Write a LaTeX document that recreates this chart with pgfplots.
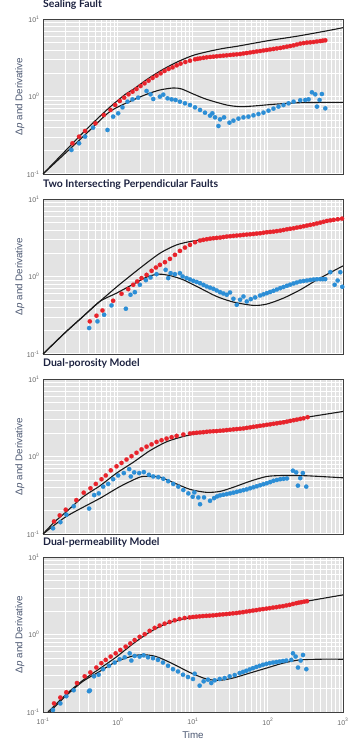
\documentclass[border=0pt]{standalone}
\usepackage{fontspec}
\setmainfont{Liberation Sans}
\newfontfamily\titlefont{Lato}
\usepackage{pgfplots}
\usepackage{pgfplotstable}
\pgfplotsset{compat=1.18}
\definecolor{ptred}{HTML}{E8232B}
\definecolor{ptblue}{HTML}{2C8ED6}
\definecolor{bggray}{HTML}{E3E3E3}
\definecolor{ticktxt}{HTML}{666666}
\definecolor{labtxt}{HTML}{4A5670}
\definecolor{titletxt}{HTML}{1C2240}

% ---------- Panel 1: Sealing Fault (log10 values) ----------
\pgfplotstableread{
lx ly
-0.608 -0.604
-0.519 -0.518
-0.439 -0.445
-0.301 -0.346
-0.189 -0.239
-0.100 -0.174
-0.038 -0.110
0.024 -0.058
0.082 -0.015
0.140 0.028
0.194 0.062
0.247 0.097
0.301 0.135
0.354 0.170
0.408 0.204
0.461 0.239
0.514 0.269
0.568 0.299
0.621 0.329
0.675 0.355
0.728 0.376
0.782 0.402
0.835 0.424
0.898 0.445
0.960 0.462
1.027 0.480
1.060 0.486
1.094 0.492
1.140 0.499
1.183 0.505
1.228 0.510
1.272 0.514
1.316 0.519
1.361 0.523
1.405 0.527
1.450 0.531
1.495 0.536
1.539 0.540
1.584 0.544
1.628 0.548
1.672 0.555
1.717 0.561
1.762 0.568
1.806 0.574
1.850 0.581
1.895 0.587
1.940 0.594
1.984 0.600
2.028 0.607
2.073 0.613
2.118 0.620
2.163 0.626
2.207 0.635
2.252 0.643
2.296 0.651
2.341 0.660
2.385 0.671
2.430 0.682
2.475 0.689
2.519 0.695
2.563 0.699
2.608 0.703
2.652 0.710
2.697 0.716
2.730 0.720
2.764 0.725
}\redA
\pgfplotstableread{
lx ly
-0.621 -0.690
-0.519 -0.604
-0.439 -0.518
-0.332 -0.402
-0.140 -0.432
-0.065 -0.260
0.002 -0.217
0.060 -0.140
0.127 -0.067
0.194 -0.037
0.269 -0.015
0.381 0.071
0.434 0.028
0.470 -0.032
0.559 -0.002
0.604 0.024
0.661 -0.024
0.715 -0.037
0.768 -0.045
0.826 -0.067
0.893 -0.088
0.960 -0.110
1.027 -0.140
1.094 -0.174
1.160 -0.209
1.227 -0.247
1.258 -0.217
1.294 -0.269
1.339 -0.381
1.361 -0.295
1.414 -0.269
1.486 -0.338
1.539 -0.312
1.606 -0.286
1.673 -0.269
1.739 -0.260
1.806 -0.243
1.873 -0.226
1.940 -0.209
2.007 -0.183
2.073 -0.157
2.140 -0.131
2.207 -0.110
2.274 -0.088
2.341 -0.067
2.430 -0.049
2.497 -0.045
2.541 -0.037
2.586 0.054
2.630 0.028
2.653 -0.131
2.688 -0.045
2.719 0.032
2.764 -0.153
}\blueA
\pgfplotstableread{
lx ly
-1 -1
-0.7 -0.70
-0.5 -0.50
-0.3 -0.31
-0.1 -0.13
0.1 0.03
0.2 0.09
0.4 0.23
0.6 0.35
0.8 0.45
1.0 0.53
1.2 0.58
1.4 0.62
1.6 0.65
2.0 0.72
2.4 0.78
2.8 0.85
3.0 0.888
}\upA
\pgfplotstableread{
lx ly
-1 -1
-0.465 -0.518
-0.109 -0.196
0.203 -0.045
0.381 0.028
0.559 0.084
0.737 0.110
0.849 0.097
1.004 0.032
1.183 -0.037
1.450 -0.110
1.628 -0.131
1.806 -0.123
2.073 -0.101
2.430 -0.080
3.0 -0.075
}\lowA

% ---------- Panel 2 ----------
\pgfplotstableread{
lx ly
-0.376 -0.579
-0.287 -0.506
-0.207 -0.438
-0.065 -0.313
0.047 -0.223
0.136 -0.163
0.203 -0.107
0.256 -0.064
0.314 -0.021
0.381 0.021
0.448 0.073
0.506 0.116
0.559 0.150
0.626 0.185
0.693 0.227
0.759 0.279
0.826 0.330
0.893 0.373
0.960 0.408
1.027 0.442
1.094 0.464
1.138 0.473
1.183 0.481
1.228 0.488
1.272 0.494
1.316 0.498
1.361 0.502
1.405 0.509
1.450 0.515
1.495 0.520
1.539 0.524
1.584 0.528
1.628 0.532
1.672 0.537
1.717 0.541
1.762 0.545
1.806 0.549
1.850 0.554
1.895 0.558
1.940 0.565
1.984 0.571
2.028 0.575
2.073 0.579
2.118 0.586
2.163 0.592
2.207 0.600
2.252 0.609
2.296 0.616
2.341 0.622
2.385 0.631
2.430 0.639
2.475 0.648
2.519 0.657
2.563 0.666
2.608 0.674
2.652 0.685
2.697 0.695
2.741 0.706
2.786 0.717
2.830 0.724
2.875 0.730
2.930 0.739
2.987 0.747
}\redB
\pgfplotstableread{
lx ly
-0.385 -0.665
-0.274 -0.579
-0.185 -0.494
-0.087 -0.373
0.105 -0.416
0.167 -0.236
0.225 -0.202
0.292 -0.107
0.372 -0.047
0.434 -0.013
0.514 0.030
0.635 0.086
0.670 -0.021
0.702 0.043
0.759 0.030
0.826 0.043
0.862 0.000
0.915 -0.021
0.960 -0.038
1.004 -0.056
1.049 -0.071
1.094 -0.086
1.140 -0.108
1.183 -0.129
1.228 -0.144
1.272 -0.159
1.316 -0.180
1.361 -0.202
1.405 -0.219
1.450 -0.236
1.494 -0.206
1.539 -0.288
1.584 -0.365
1.628 -0.300
1.673 -0.258
1.717 -0.322
1.771 -0.292
1.829 -0.270
1.895 -0.245
1.940 -0.230
1.984 -0.215
2.028 -0.200
2.073 -0.185
2.118 -0.168
2.163 -0.150
2.207 -0.135
2.252 -0.120
2.296 -0.105
2.341 -0.090
2.385 -0.077
2.430 -0.064
2.475 -0.058
2.519 -0.052
2.563 -0.045
2.608 -0.039
2.652 -0.036
2.697 -0.034
2.730 -0.034
2.764 -0.034
2.831 0.056
2.889 -0.107
2.929 -0.052
2.964 0.056
2.990 -0.133
}\blueB
\pgfplotstableread{
lx ly
-1 -1
-0.7 -0.72
-0.465 -0.515
-0.243 -0.322
0 -0.12
0.292 0.107
0.559 0.300
0.782 0.408
1.004 0.459
1.272 0.494
1.6 0.530
2.0 0.572
2.4 0.634
2.8 0.720
3.0 0.750
}\upB
\pgfplotstableread{
lx ly
-1 -1
-0.7 -0.72
-0.465 -0.515
-0.243 -0.322
-0.020 -0.215
0.203 -0.099
0.4 0.000
0.55 0.030
0.7 0.010
0.871 -0.043
1.094 -0.150
1.316 -0.258
1.539 -0.330
1.806 -0.373
1.984 -0.356
2.207 -0.279
2.430 -0.172
2.653 -0.043
2.875 0.073
3.0 0.137
}\lowB

% ---------- Panel 3 ----------
\pgfplotstableread{
lx ly
-0.853 -0.838
-0.777 -0.760
-0.697 -0.686
-0.555 -0.563
-0.457 -0.467
-0.367 -0.410
-0.296 -0.354
-0.220 -0.293
-0.163 -0.245
-0.096 -0.179
-0.020 -0.127
0.047 -0.083
0.114 -0.039
0.180 0.004
0.247 0.048
0.314 0.092
0.381 0.127
0.448 0.157
0.514 0.188
0.581 0.210
0.648 0.231
0.715 0.249
0.782 0.266
0.871 0.284
0.960 0.297
1.005 0.302
1.049 0.306
1.094 0.310
1.138 0.314
1.183 0.319
1.227 0.323
1.272 0.326
1.316 0.328
1.361 0.332
1.405 0.336
1.450 0.341
1.494 0.345
1.539 0.350
1.584 0.354
1.628 0.358
1.673 0.362
1.717 0.369
1.762 0.376
1.806 0.383
1.851 0.389
1.895 0.396
1.940 0.402
1.985 0.409
2.029 0.415
2.074 0.422
2.118 0.428
2.163 0.435
2.207 0.441
2.252 0.450
2.296 0.459
2.341 0.468
2.385 0.476
2.430 0.485
2.474 0.493
2.528 0.507
}\redC
\pgfplotstableread{
lx ly
-0.866 -0.926
-0.768 -0.847
-0.688 -0.751
-0.590 -0.642
-0.385 -0.672
-0.318 -0.498
-0.256 -0.476
-0.198 -0.389
-0.131 -0.354
-0.065 -0.293
0.002 -0.245
0.078 -0.214
0.149 -0.162
0.171 -0.258
0.216 -0.205
0.283 -0.214
0.345 -0.201
0.412 -0.236
0.470 -0.258
0.537 -0.266
0.604 -0.288
0.670 -0.319
0.737 -0.354
0.804 -0.389
0.871 -0.432
0.938 -0.476
0.996 -0.520
1.018 -0.463
1.071 -0.528
1.094 -0.616
1.147 -0.528
1.227 -0.572
1.281 -0.537
1.321 -0.515
1.361 -0.502
1.405 -0.494
1.450 -0.485
1.494 -0.476
1.539 -0.467
1.584 -0.456
1.628 -0.445
1.673 -0.434
1.717 -0.424
1.762 -0.410
1.806 -0.397
1.851 -0.384
1.895 -0.371
1.940 -0.358
1.984 -0.345
2.029 -0.330
2.073 -0.314
2.118 -0.303
2.163 -0.293
2.207 -0.288
2.252 -0.284
2.332 -0.183
2.376 -0.205
2.399 -0.376
2.430 -0.279
2.465 -0.214
2.510 -0.389
}\blueC
\pgfplotstableread{
lx ly
-1 -1
-0.853 -0.850
-0.688 -0.712
-0.465 -0.520
-0.243 -0.380
-0.020 -0.215
0.203 -0.075
0.425 0.075
0.648 0.190
0.871 0.258
1.094 0.301
1.539 0.354
1.984 0.419
2.519 0.507
3.0 0.581
}\upC
\pgfplotstableread{
lx ly
-1 -1
-0.688 -0.773
-0.243 -0.541
0.024 -0.389
0.292 -0.266
0.425 -0.258
0.559 -0.266
0.737 -0.336
0.960 -0.424
1.183 -0.463
1.361 -0.450
1.539 -0.397
1.762 -0.319
1.984 -0.258
2.207 -0.245
2.519 -0.249
3.0 -0.275
}\lowC

% ---------- Panel 4 ----------
\pgfplotstableread{
lx ly
-0.853 -0.889
-0.769 -0.813
-0.689 -0.745
-0.547 -0.626
-0.444 -0.540
-0.369 -0.489
-0.289 -0.426
-0.222 -0.370
-0.164 -0.328
-0.098 -0.285
-0.031 -0.243
0.031 -0.200
0.102 -0.157
0.164 -0.115
0.222 -0.072
0.289 -0.030
0.356 0.004
0.422 0.047
0.489 0.085
0.556 0.115
0.622 0.140
0.689 0.162
0.756 0.183
0.822 0.200
0.889 0.213
0.956 0.221
1.000 0.226
1.044 0.230
1.089 0.234
1.133 0.238
1.178 0.241
1.222 0.243
1.267 0.247
1.311 0.251
1.356 0.256
1.400 0.260
1.444 0.264
1.489 0.268
1.533 0.273
1.578 0.277
1.622 0.283
1.667 0.289
1.711 0.296
1.756 0.302
1.800 0.309
1.844 0.315
1.889 0.322
1.933 0.328
1.978 0.334
2.022 0.340
2.067 0.347
2.111 0.353
2.156 0.360
2.200 0.366
2.244 0.375
2.289 0.383
2.333 0.394
2.378 0.404
2.411 0.411
2.444 0.417
2.482 0.424
2.520 0.430
}\redD
\pgfplotstableread{
lx ly
-0.867 -0.974
-0.769 -0.889
-0.689 -0.796
-0.591 -0.719
-0.387 -0.732
-0.375 -0.722
-0.320 -0.540
-0.258 -0.519
-0.200 -0.447
-0.120 -0.404
-0.044 -0.362
0.022 -0.319
0.089 -0.294
0.156 -0.243
0.178 -0.336
0.222 -0.277
0.289 -0.285
0.342 -0.268
0.400 -0.294
0.467 -0.306
0.533 -0.328
0.600 -0.362
0.667 -0.404
0.733 -0.447
0.800 -0.477
0.867 -0.519
0.933 -0.549
1.000 -0.574
1.022 -0.506
1.089 -0.660
1.142 -0.604
1.200 -0.583
1.244 -0.626
1.289 -0.591
1.356 -0.574
1.422 -0.562
1.489 -0.540
1.556 -0.523
1.622 -0.498
1.667 -0.483
1.711 -0.468
1.756 -0.451
1.800 -0.434
1.844 -0.419
1.889 -0.404
1.933 -0.391
1.978 -0.379
2.022 -0.370
2.067 -0.362
2.111 -0.355
2.156 -0.349
2.200 -0.342
2.244 -0.336
2.311 -0.328
2.333 -0.243
2.369 -0.285
2.400 -0.426
2.436 -0.336
2.467 -0.264
2.511 -0.447
}\blueD
\pgfplotstableread{
lx ly
-0.933 -1
-0.689 -0.77
-0.467 -0.59
-0.244 -0.44
-0.022 -0.29
0.200 -0.12
0.422 0.03
0.644 0.14
0.867 0.20
1.089 0.226
1.533 0.264
1.978 0.332
2.520 0.430
3.0 0.511
}\upD
\pgfplotstableread{
lx ly
-0.911 -1.0
-0.689 -0.787
-0.467 -0.604
-0.244 -0.477
-0.022 -0.349
0.200 -0.277
0.333 -0.260
0.511 -0.285
0.733 -0.379
0.956 -0.489
1.178 -0.574
1.356 -0.591
1.533 -0.562
1.756 -0.498
1.978 -0.434
2.200 -0.370
2.422 -0.328
2.689 -0.319
3.0 -0.319
}\lowD

\begin{document}
\begin{tikzpicture}
\useasboundingbox (0,0) rectangle (350bp,740bp);

\begin{axis}[
    at={(43bp,566bp)}, anchor=south west,
    width=300bp, height=155bp, scale only axis,
    xmode=log, ymode=log,
    xmin=0.1, xmax=1000, ymin=0.1, ymax=10,
    axis background/.style={fill=bggray},
    grid=both,
    major grid style={white, line width=1bp},
    minor grid style={white, line width=0.55bp},
    axis line style={draw=black!75, line width=0.6bp},
    major tick length=0pt, minor tick length=0pt,
    xtick={0.1,1,10,100,1000},
    minor xtick={0.2,0.3,0.4,0.5,0.6,0.7,0.8,0.9,2,3,4,5,6,7,8,9,20,30,40,50,60,70,80,90,200,300,400,500,600,700,800,900},
    ytick={0.1,1,10},
    minor ytick={0.2,0.3,0.4,0.5,0.6,0.7,0.8,0.9,2,3,4,5,6,7,8,9},
    yticklabels={10\textsuperscript{-1},10\textsuperscript{0},10\textsuperscript{1}},
    xticklabels={},
    tick label style={font=\fontsize{7}{8}\selectfont, text=ticktxt},
    ylabel={Δ\textit{p} and Derivative},
    label style={font=\fontsize{9.8}{11}\selectfont, text=labtxt},
    ylabel style={at={(axis description cs:-0.077,0.5)}, anchor=center},
    title={Sealing Fault},
    title style={at={(axis description cs:0,1)}, anchor=base west, yshift=6bp,
      font=\titlefont\bfseries\fontsize{10.5}{12}\selectfont, text=titletxt, inner sep=0pt},
  ]
\addplot[no marks, smooth, tension=0.45, draw=black!90, line width=1.1bp] table[x expr={10^(\thisrow{lx})}, y expr={10^(\thisrow{ly})}] {\upA};
\addplot[no marks, smooth, tension=0.45, draw=black!90, line width=1.1bp] table[x expr={10^(\thisrow{lx})}, y expr={10^(\thisrow{ly})}] {\lowA};
\addplot[only marks, color=ptblue, mark=*, mark size=2.2bp, mark options={fill=ptblue, draw=ptblue, line width=0.1bp}] table[x expr={10^(\thisrow{lx})}, y expr={10^(\thisrow{ly})}] {\blueA};
\addplot[only marks, color=ptred, mark=*, mark size=2.2bp, mark options={fill=ptred, draw=ptred, line width=0.1bp}] table[x expr={10^(\thisrow{lx})}, y expr={10^(\thisrow{ly})}] {\redA};
\end{axis}

\begin{axis}[
    at={(43bp,386bp)}, anchor=south west,
    width=300bp, height=155bp, scale only axis,
    xmode=log, ymode=log,
    xmin=0.1, xmax=1000, ymin=0.1, ymax=10,
    axis background/.style={fill=bggray},
    grid=both,
    major grid style={white, line width=1bp},
    minor grid style={white, line width=0.55bp},
    axis line style={draw=black!75, line width=0.6bp},
    major tick length=0pt, minor tick length=0pt,
    xtick={0.1,1,10,100,1000},
    minor xtick={0.2,0.3,0.4,0.5,0.6,0.7,0.8,0.9,2,3,4,5,6,7,8,9,20,30,40,50,60,70,80,90,200,300,400,500,600,700,800,900},
    ytick={0.1,1,10},
    minor ytick={0.2,0.3,0.4,0.5,0.6,0.7,0.8,0.9,2,3,4,5,6,7,8,9},
    yticklabels={10\textsuperscript{-1},10\textsuperscript{0},10\textsuperscript{1}},
    xticklabels={},
    tick label style={font=\fontsize{7}{8}\selectfont, text=ticktxt},
    ylabel={Δ\textit{p} and Derivative},
    label style={font=\fontsize{9.8}{11}\selectfont, text=labtxt},
    ylabel style={at={(axis description cs:-0.077,0.5)}, anchor=center},
    title={Two Intersecting Perpendicular Faults},
    title style={at={(axis description cs:0,1)}, anchor=base west, yshift=6bp,
      font=\titlefont\bfseries\fontsize{10.5}{12}\selectfont, text=titletxt, inner sep=0pt},
  ]
\addplot[no marks, smooth, tension=0.45, draw=black!90, line width=1.1bp] table[x expr={10^(\thisrow{lx})}, y expr={10^(\thisrow{ly})}] {\upB};
\addplot[no marks, smooth, tension=0.45, draw=black!90, line width=1.1bp] table[x expr={10^(\thisrow{lx})}, y expr={10^(\thisrow{ly})}] {\lowB};
\addplot[only marks, color=ptblue, mark=*, mark size=2.2bp, mark options={fill=ptblue, draw=ptblue, line width=0.1bp}] table[x expr={10^(\thisrow{lx})}, y expr={10^(\thisrow{ly})}] {\blueB};
\addplot[only marks, color=ptred, mark=*, mark size=2.2bp, mark options={fill=ptred, draw=ptred, line width=0.1bp}] table[x expr={10^(\thisrow{lx})}, y expr={10^(\thisrow{ly})}] {\redB};
\end{axis}

\begin{axis}[
    at={(43bp,206bp)}, anchor=south west,
    width=300bp, height=155bp, scale only axis,
    xmode=log, ymode=log,
    xmin=0.1, xmax=1000, ymin=0.1, ymax=10,
    axis background/.style={fill=bggray},
    grid=both,
    major grid style={white, line width=1bp},
    minor grid style={white, line width=0.55bp},
    axis line style={draw=black!75, line width=0.6bp},
    major tick length=0pt, minor tick length=0pt,
    xtick={0.1,1,10,100,1000},
    minor xtick={0.2,0.3,0.4,0.5,0.6,0.7,0.8,0.9,2,3,4,5,6,7,8,9,20,30,40,50,60,70,80,90,200,300,400,500,600,700,800,900},
    ytick={0.1,1,10},
    minor ytick={0.2,0.3,0.4,0.5,0.6,0.7,0.8,0.9,2,3,4,5,6,7,8,9},
    yticklabels={10\textsuperscript{-1},10\textsuperscript{0},10\textsuperscript{1}},
    xticklabels={},
    tick label style={font=\fontsize{7}{8}\selectfont, text=ticktxt},
    ylabel={Δ\textit{p} and Derivative},
    label style={font=\fontsize{9.8}{11}\selectfont, text=labtxt},
    ylabel style={at={(axis description cs:-0.077,0.5)}, anchor=center},
    title={Dual-porosity Model},
    title style={at={(axis description cs:0,1)}, anchor=base west, yshift=7bp,
      font=\titlefont\bfseries\fontsize{10.5}{12}\selectfont, text=titletxt, inner sep=0pt},
  ]
\addplot[no marks, smooth, tension=0.45, draw=black!90, line width=1.1bp] table[x expr={10^(\thisrow{lx})}, y expr={10^(\thisrow{ly})}] {\upC};
\addplot[no marks, smooth, tension=0.45, draw=black!90, line width=1.1bp] table[x expr={10^(\thisrow{lx})}, y expr={10^(\thisrow{ly})}] {\lowC};
\addplot[only marks, color=ptblue, mark=*, mark size=2.2bp, mark options={fill=ptblue, draw=ptblue, line width=0.1bp}] table[x expr={10^(\thisrow{lx})}, y expr={10^(\thisrow{ly})}] {\blueC};
\addplot[only marks, color=ptred, mark=*, mark size=2.2bp, mark options={fill=ptred, draw=ptred, line width=0.1bp}] table[x expr={10^(\thisrow{lx})}, y expr={10^(\thisrow{ly})}] {\redC};
\end{axis}

\begin{axis}[
    at={(43bp,28bp)}, anchor=south west,
    width=300bp, height=155bp, scale only axis,
    xmode=log, ymode=log,
    xmin=0.1, xmax=1000, ymin=0.1, ymax=10,
    axis background/.style={fill=bggray},
    grid=both,
    major grid style={white, line width=1bp},
    minor grid style={white, line width=0.55bp},
    axis line style={draw=black!75, line width=0.6bp},
    major tick length=0pt, minor tick length=0pt,
    xtick={0.1,1,10,100,1000},
    minor xtick={0.2,0.3,0.4,0.5,0.6,0.7,0.8,0.9,2,3,4,5,6,7,8,9,20,30,40,50,60,70,80,90,200,300,400,500,600,700,800,900},
    ytick={0.1,1,10},
    minor ytick={0.2,0.3,0.4,0.5,0.6,0.7,0.8,0.9,2,3,4,5,6,7,8,9},
    yticklabels={10\textsuperscript{-1},10\textsuperscript{0},10\textsuperscript{1}},
    xticklabels={10\textsuperscript{-1},10\textsuperscript{0},10\textsuperscript{1},10\textsuperscript{2},10\textsuperscript{3}},
    tick label style={font=\fontsize{7}{8}\selectfont, text=ticktxt},
    xticklabel style={yshift=-3bp},
    ylabel={Δ\textit{p} and Derivative},
    xlabel={Time},
    label style={font=\fontsize{9.8}{11}\selectfont, text=labtxt},
    ylabel style={at={(axis description cs:-0.077,0.5)}, anchor=center},
    xlabel style={at={(axis description cs:0.5,0)}, yshift=-23bp, anchor=center},
    title={Dual-permeability Model},
    title style={at={(axis description cs:0,1)}, anchor=base west, yshift=6bp,
      font=\titlefont\bfseries\fontsize{10.5}{12}\selectfont, text=titletxt, inner sep=0pt},
  ]
\addplot[no marks, smooth, tension=0.45, draw=black!90, line width=1.1bp] table[x expr={10^(\thisrow{lx})}, y expr={10^(\thisrow{ly})}] {\upD};
\addplot[no marks, smooth, tension=0.45, draw=black!90, line width=1.1bp] table[x expr={10^(\thisrow{lx})}, y expr={10^(\thisrow{ly})}] {\lowD};
\addplot[only marks, color=ptblue, mark=*, mark size=2.2bp, mark options={fill=ptblue, draw=ptblue, line width=0.1bp}] table[x expr={10^(\thisrow{lx})}, y expr={10^(\thisrow{ly})}] {\blueD};
\addplot[only marks, color=ptred, mark=*, mark size=2.2bp, mark options={fill=ptred, draw=ptred, line width=0.1bp}] table[x expr={10^(\thisrow{lx})}, y expr={10^(\thisrow{ly})}] {\redD};
\end{axis}
\end{tikzpicture}
\end{document}
